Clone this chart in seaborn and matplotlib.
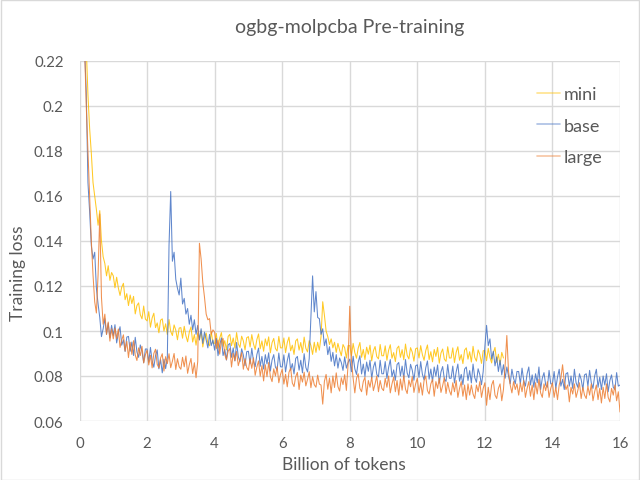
import numpy as np
import pandas as pd
import matplotlib
matplotlib.use("Agg")
import matplotlib.pyplot as plt
from matplotlib.lines import Line2D
from matplotlib.patches import Rectangle
import seaborn as sns

# ---------------- data (loss values in units of 1e-4) ----------------
x_start = 0.15
x_step = 0.05

mini_loss = [
    2260, 2260, 2050, 1900, 1790, 1660, 1600, 1540, 1470, 1535, 1400, 1330, 1300, 1245, 1290, 1225, 1260,
    1245, 1192, 1239, 1191, 1158, 1195, 1212, 1139, 1166, 1113, 1160, 1122, 1154, 1076, 1113, 1125, 1072, 1054, 1111, 1053,
    1045, 1086, 1017, 1058, 1079, 1015, 1036, 992, 1048, 1054, 1000, 1032, 984, 1051, 998, 980, 1027, 1004, 961, 1013,
    1015, 968, 1021, 979, 952, 995, 1018, 951, 984, 937, 992, 961, 1000, 929, 973, 991, 945, 934, 997, 946,
    945, 989, 924, 968, 993, 932, 957, 916, 976, 985, 935, 969, 924, 993, 943, 927, 977, 956, 916, 970,
    975, 929, 984, 943, 918, 962, 987, 921, 956, 910, 965, 934, 974, 903, 948, 967, 922, 911, 976, 925,
    925, 969, 904, 948, 973, 912, 937, 896, 956, 965, 915, 949, 904, 973, 923, 907, 957, 936, 896, 950,
    905, 950, 915, 975, 1130, 1070, 1000, 975, 940, 965, 925, 950, 905, 945, 915, 890, 940, 925, 880, 935,
    935, 890, 945, 904, 879, 924, 949, 883, 918, 873, 928, 897, 937, 867, 912, 931, 886, 876, 940, 890,
    890, 934, 870, 914, 939, 879, 904, 864, 923, 933, 883, 917, 872, 942, 892, 876, 926, 906, 866, 921,
    925, 880, 935, 895, 870, 913, 938, 873, 908, 863, 918, 887, 927, 857, 902, 920, 875, 865, 930, 880,
    880, 925, 860, 905, 930, 870, 895, 855, 915, 925, 875, 908, 862, 932, 882, 866, 916, 896, 856, 912,
    913, 868, 923, 883, 858, 902, 927, 861, 897, 851, 905, 880,
]

base_loss = [
    2260, 2060, 1660, 1530, 1380, 1320, 1350, 1190, 1120, 1060, 975, 1010, 1055, 985, 1035, 970, 1025,
    980, 1028, 947, 990, 1019, 937, 961, 909, 973, 976, 910, 951, 891, 972, 907, 883, 938, 909, 859, 920,
    920, 861, 927, 868, 839, 890, 916, 832, 873, 814, 875, 833, 881, 1380, 1620, 1310, 1350, 1230, 1190, 1160,
    1235, 1120, 1145, 1075, 1100, 1030, 1070, 1005, 1050, 985, 1025, 960, 1010, 945, 995, 960, 925, 985, 935, 960,
    915, 967, 890, 937, 969, 891, 919, 871, 938, 945, 883, 925, 867, 949, 887, 864, 921, 893, 846, 908,
    910, 854, 923, 867, 841, 895, 924, 843, 887, 831, 895, 854, 903, 822, 871, 895, 839, 828, 902, 841,
    840, 894, 818, 868, 902, 826, 855, 809, 878, 887, 826, 870, 814, 899, 838, 818, 877, 1060, 1245, 1085,
    1175, 1060, 1055, 985, 1010, 935, 965, 895, 930, 865, 905, 845, 895, 835, 880, 860, 825, 885, 835, 860,
    875, 819, 888, 832, 807, 861, 890, 809, 853, 798, 862, 821, 870, 789, 839, 863, 807, 796, 870, 810,
    810, 864, 789, 838, 873, 797, 827, 781, 851, 860, 800, 844, 789, 873, 813, 792, 852, 826, 781, 845,
    850, 794, 864, 808, 783, 837, 867, 786, 831, 775, 840, 799, 849, 768, 818, 842, 787, 776, 851, 790,
    790, 844, 769, 818, 853, 777, 807, 761, 831, 840, 780, 824, 769, 853, 793, 772, 832, 806, 761, 820,
    930, 1025, 935, 965, 875, 910, 845, 885, 820, 870, 805, 850, 790, 840, 800, 765, 830, 790, 765, 820,
    820, 765, 835, 780, 755, 810, 840, 760, 805, 750, 810, 770, 840, 740, 790, 815, 760, 750, 825, 765,
    765, 820, 745, 795, 830, 755, 785, 740, 810, 815, 755, 800, 745, 830, 770, 750, 810, 785, 740, 805,
    810, 755, 825, 770, 745, 800, 830, 750, 795, 740, 800, 760, 810, 730, 780, 805, 750, 740, 815, 755,
    760,
]

large_loss = [
    2260, 2000, 1800, 1600, 1400, 1250, 1130, 1080, 1250, 1520, 1150, 1030, 1075, 985, 1040, 955, 1010,
    965, 1013, 966, 1009, 927, 960, 983, 911, 954, 882, 950, 896, 957, 893, 869, 925, 891, 932, 858, 894,
    915, 849, 892, 836, 900, 919, 852, 836, 880, 899, 822, 886, 855, 899, 837, 866, 900, 829, 877, 841,
    830, 883, 841, 889, 812, 850, 878, 811, 859, 792, 865, 1390, 1320, 1215, 1150, 1075, 1050, 1055, 985, 1005,
    995, 922, 960, 897, 955, 967, 895, 872, 910, 922, 840, 901, 868, 909, 846, 872, 904, 830, 877, 838,
    825, 877, 834, 881, 803, 840, 867, 799, 846, 778, 850, 797, 860, 797, 775, 832, 800, 842, 770, 807,
    830, 764, 808, 752, 816, 835, 769, 753, 797, 816, 740, 804, 773, 817, 756, 785, 819, 748, 797, 761,
    750, 804, 764, 760, 675, 777, 807, 741, 791, 725, 800, 749, 814, 753, 733, 792, 762, 806, 736, 850,
    1110, 870, 790, 725, 790, 810, 745, 730, 775, 795, 715, 780, 750, 795, 735, 765, 800, 730, 780, 745,
    735, 790, 750, 800, 725, 765, 795, 730, 780, 715, 787, 737, 802, 742, 722, 782, 752, 797, 727, 765,
    790, 725, 770, 715, 780, 800, 735, 720, 765, 785, 710, 775, 745, 790, 727, 757, 792, 722, 772, 735,
    715, 770, 730, 780, 705, 745, 775, 710, 760, 695, 765, 715, 760, 720, 700, 760, 730, 775, 705, 745,
    770, 670, 750, 695, 760, 780, 715, 700, 745, 765, 690, 740, 850, 980, 820, 760, 725, 775, 740, 765,
    715, 770, 730, 780, 705, 745, 775, 710, 760, 695, 770, 720, 785, 725, 705, 765, 735, 775, 705, 745,
    770, 705, 750, 695, 760, 790, 850, 775, 740, 760, 685, 750, 720, 765, 705, 735, 770, 700, 750, 715,
    700, 755, 715, 765, 690, 730, 760, 695, 745, 680, 750, 700, 765, 705, 685, 745, 715, 760, 690, 730,
    640,
]

series_names = ["mini", "base", "large"]
series_values = [mini_loss, base_loss, large_loss]
series_colors = ["#FFC000", "#4472C4", "#ED7D31"]

x_ticks = [0, 2, 4, 6, 8, 10, 12, 14, 16]
y_ticks = [0.06, 0.08, 0.10, 0.12, 0.14, 0.16, 0.18, 0.20, 0.22]
y_tick_labels = ["0.06", "0.08", "0.1", "0.12", "0.14", "0.16", "0.18", "0.2", "0.22"]

# ---------------- build tidy frame ----------------
frames = []
for name, vals in zip(series_names, series_values):
    v = np.asarray(vals, dtype=float) * 1e-4
    x = np.round(x_start + x_step * np.arange(len(v)), 3)
    frames.append(pd.DataFrame({"tokens": x, "loss": v, "model": name}))
df = pd.concat(frames, ignore_index=True)

# ---------------- plot ----------------
sns.set_style("white")
plt.rcParams["font.family"] = ["Lato", "DejaVu Sans"]
text_color = "#595959"

fig = plt.figure(figsize=(6.4, 4.81), dpi=100)
ax = fig.add_axes([79.5 / 640, 1 - 422 / 481, 540.5 / 640, 360 / 481])

for name, color in zip(series_names, series_colors):
    sns.lineplot(data=df[df["model"] == name], x="tokens", y="loss", ax=ax,
                 color=color, linewidth=0.75, alpha=0.85, estimator=None, sort=False,
                 legend=False)

ax.set_xlim(0, 16)
ax.set_ylim(0.06, 0.22)
ax.set_xticks(x_ticks)
ax.set_xticklabels([str(t) for t in x_ticks])
ax.set_yticks(y_ticks)
ax.set_yticklabels(y_tick_labels)
ax.grid(True, color="#D9D9D9", linewidth=1.0)
ax.set_axisbelow(True)
for s in ax.spines.values():
    s.set_visible(False)
ax.tick_params(axis="both", length=0, labelsize=10.8, colors=text_color)
ax.tick_params(axis="y", pad=11.5)
ax.tick_params(axis="x", pad=10.5)

ax.set_xlabel("Billion of tokens", fontsize=12.5, color=text_color, va="center")
ax.xaxis.set_label_coords((343.5 - 79.5) / 540.5, (422 - 465) / 360)
ax.set_ylabel("Training loss", fontsize=12.5, color=text_color, va="center")
ax.yaxis.set_label_coords((18 - 79.5) / 540.5, (422 - 273) / 360)

ax.set_title("ogbg-molpcba Pre-training", fontsize=14, color=text_color, pad=21)

handles = [Line2D([0], [0], color=c, linewidth=1.2, alpha=0.45) for c in series_colors]
leg = ax.legend(handles, series_names, loc="upper left",
                bbox_to_anchor=(537 / 640, 1 - 87 / 481), bbox_transform=fig.transFigure,
                frameon=False, fontsize=13, handlelength=1.3, handletextpad=0.2,
                labelspacing=0.86, borderaxespad=0, borderpad=0)
for t in leg.get_texts():
    t.set_color(text_color)

fig.patches.append(Rectangle((0.5 / 640, 0.5 / 481), 638.5 / 640, 479.5 / 481,
                             transform=fig.transFigure, fill=False,
                             edgecolor="#D9D9D9", linewidth=1.0))

fig.savefig("out.png", dpi=100)
